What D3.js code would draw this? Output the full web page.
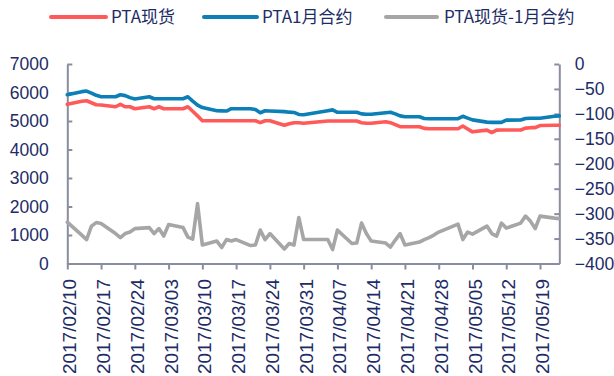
<!DOCTYPE html>
<html>
<head>
<meta charset="utf-8">
<script src="https://cdn.jsdelivr.net/npm/d3@7/dist/d3.min.js"></script>
<style>
  html, body { margin: 0; padding: 0; background: #fff; }
  svg { display: block; }
</style>
</head>
<body>
<svg id="chart" width="614" height="376"></svg>
<script>
// Trading days (date axis, calendar spacing)
const dates = [
  "2017/02/10",
  "2017/02/13","2017/02/14","2017/02/15","2017/02/16","2017/02/17",
  "2017/02/20","2017/02/21","2017/02/22","2017/02/23","2017/02/24",
  "2017/02/27","2017/02/28","2017/03/01","2017/03/02","2017/03/03",
  "2017/03/06","2017/03/07","2017/03/08","2017/03/09","2017/03/10",
  "2017/03/13","2017/03/14","2017/03/15","2017/03/16","2017/03/17",
  "2017/03/20","2017/03/21","2017/03/22","2017/03/23","2017/03/24",
  "2017/03/27","2017/03/28","2017/03/29","2017/03/30","2017/03/31",
  "2017/04/05","2017/04/06","2017/04/07",
  "2017/04/10","2017/04/11","2017/04/12","2017/04/13","2017/04/14",
  "2017/04/17","2017/04/18","2017/04/19","2017/04/20","2017/04/21",
  "2017/04/24","2017/04/25","2017/04/26","2017/04/27","2017/04/28",
  "2017/05/02","2017/05/03","2017/05/04","2017/05/05",
  "2017/05/08","2017/05/09","2017/05/10","2017/05/11","2017/05/12",
  "2017/05/15","2017/05/16","2017/05/17","2017/05/18","2017/05/19",
  "2017/05/22","2017/05/23"
];

// PTA现货 (left axis)
const spot = [
  5585,
  5690,5710,5640,5570,5560,
  5500,5585,5500,5500,5430,
  5500,5430,5500,5430,5430,
  5430,5500,5340,5180,5010,
  5010,5010,5010,5010,5010,
  5010,5010,4940,5010,5010,
  4850,4900,4940,4940,4920,
  5000,5000,5000,
  5000,5000,4940,4919,4919,
  4976,4940,4870,4800,4800,
  4800,4740,4730,4730,4730,
  4730,4825,4720,4620,
  4680,4595,4680,4684,4684,
  4684,4750,4766,4766,4840,
  4849,4849
];

// PTA1月合约 (left axis)
const futures = [
  5920,
  6030,6050,5980,5900,5850,
  5850,5920,5890,5820,5770,
  5850,5780,5780,5780,5780,
  5780,5850,5700,5560,5470,
  5360,5355,5350,5430,5430,
  5430,5400,5290,5360,5350,
  5330,5310,5300,5230,5220,
  5360,5390,5305,
  5305,5305,5250,5235,5235,
  5290,5305,5250,5180,5150,
  5150,5090,5080,5080,5080,
  5080,5165,5100,5040,
  4960,4953,4953,4953,5030,
  5035,5090,5094,5094,5094,
  5165,5180
];

// PTA现货-1月合约 (right axis)
const spread = [
  -317,
  -343,-352,-325,-318,-320,
  -340,-348,-340,-337,-330,
  -328,-340,-330,-345,-322,
  -328,-347,-351,-280,-363,
  -355,-368,-352,-355,-352,
  -364,-363,-333,-352,-340,
  -371,-360,-363,-308,-352,
  -352,-372,-333,
  -360,-359,-319,-340,-355,
  -359,-367,-353,-340,-363,
  -357,-352,-348,-343,-337,
  -321,-352,-337,-341,
  -325,-340,-345,-319,-329,
  -319,-305,-315,-330,-305,
  -309,-310
];

const tickDates = [
  "2017/02/10","2017/02/17","2017/02/24","2017/03/03","2017/03/10",
  "2017/03/17","2017/03/24","2017/03/31","2017/04/07","2017/04/14",
  "2017/04/21","2017/04/28","2017/05/05","2017/05/12","2017/05/19"
];
const leftTicks = [0, 1000, 2000, 3000, 4000, 5000, 6000, 7000];
const rightTicks = [-400, -350, -300, -250, -200, -150, -100, -50, 0];

const seriesNames = ["PTA现货", "PTA1月合约", "PTA现货-1月合约"];
const colors = ["#ff5a5a", "#0b7fb6", "#a6a6a6"];

const parse = d3.timeParse("%Y/%m/%d");
const fmt = d3.timeFormat("%Y/%m/%d");
const days = dates.map(parse);

const plot = { left: 67.3, right: 559.3, top: 64, bottom: 263.5 };
const axisColor = "#8a8da0";
const textColor = "#1d2c66";
const numFont = "'Liberation Sans', Arial, sans-serif";

const svg = d3.select("#chart");

const x = d3.scaleTime()
  .domain([parse("2017/02/10"), parse("2017/05/23")])
  .range([plot.left, plot.right]);
const yL = d3.scaleLinear().domain([0, 7000]).range([plot.bottom, plot.top]);
const yR = d3.scaleLinear().domain([-400, 0]).range([plot.bottom, plot.top]);

// Left axis
const gL = svg.append("g")
  .attr("transform", `translate(${plot.left},0)`)
  .call(d3.axisLeft(yL).tickValues(leftTicks).tickFormat(d3.format("d"))
    .tickSizeInner(-5).tickSizeOuter(0).tickPadding(18.5));

// Right axis
const gR = svg.append("g")
  .attr("transform", `translate(${plot.right},0)`)
  .call(d3.axisRight(yR).tickValues(rightTicks).tickFormat(d3.format("d"))
    .tickSizeInner(-5).tickSizeOuter(0).tickPadding(15.5));

// Bottom axis
const gB = svg.append("g")
  .attr("transform", `translate(0,${plot.bottom})`)
  .call(d3.axisBottom(x).tickValues(tickDates.map(parse)).tickFormat(fmt)
    .tickSizeInner(6).tickSizeOuter(0));

gB.selectAll(".tick text")
  .attr("transform", "rotate(-90)")
  .attr("x", -15.5)
  .attr("y", 0)
  .attr("dy", "0.45em")
  .style("text-anchor", "end")
  .style("font-size", "19px");

[gL, gR].forEach(g => g.selectAll(".tick text").style("font-size", "17.5px"));

[gL, gR, gB].forEach(g => {
  g.selectAll(".domain").attr("stroke", axisColor).attr("stroke-width", 2);
  g.selectAll(".tick line").attr("stroke", axisColor).attr("stroke-width", 2);
  g.selectAll(".tick text").attr("fill", textColor).style("font-family", numFont);
  g.attr("font-family", null).attr("font-size", null);
});

// Series lines
const lineL = d3.line().x((d, i) => x(days[i])).y(d => yL(d));
const lineR = d3.line().x((d, i) => x(days[i])).y(d => yR(d));

const drawLine = (values, gen, color) => svg.append("path")
  .datum(values)
  .attr("fill", "none")
  .attr("stroke", color)
  .attr("stroke-width", 3.6)
  .attr("stroke-linejoin", "round")
  .attr("stroke-linecap", "round")
  .attr("d", gen);

drawLine(spread, lineR, colors[2]);
drawLine(spot, lineL, colors[0]);
drawLine(futures, lineL, colors[1]);

// Legend
const legendItems = [
  { x1: 51, x2: 106, tx: 111 },
  { x1: 204, x2: 257, tx: 262 },
  { x1: 386, x2: 437, tx: 444 }
];
const legend = svg.append("g");
legendItems.forEach((it, i) => {
  legend.append("line")
    .attr("x1", it.x1).attr("x2", it.x2)
    .attr("y1", 17).attr("y2", 17)
    .attr("stroke", colors[i])
    .attr("stroke-width", 4)
    .attr("stroke-linecap", "round");
  legend.append("text")
    .attr("x", it.tx).attr("y", 17)
    .attr("dy", "0.36em")
    .attr("fill", textColor)
    .style("font-family", "'Noto Sans CJK SC', sans-serif")
    .style("font-size", "17px")
    .text(seriesNames[i]);
});
</script>
</body>
</html>
